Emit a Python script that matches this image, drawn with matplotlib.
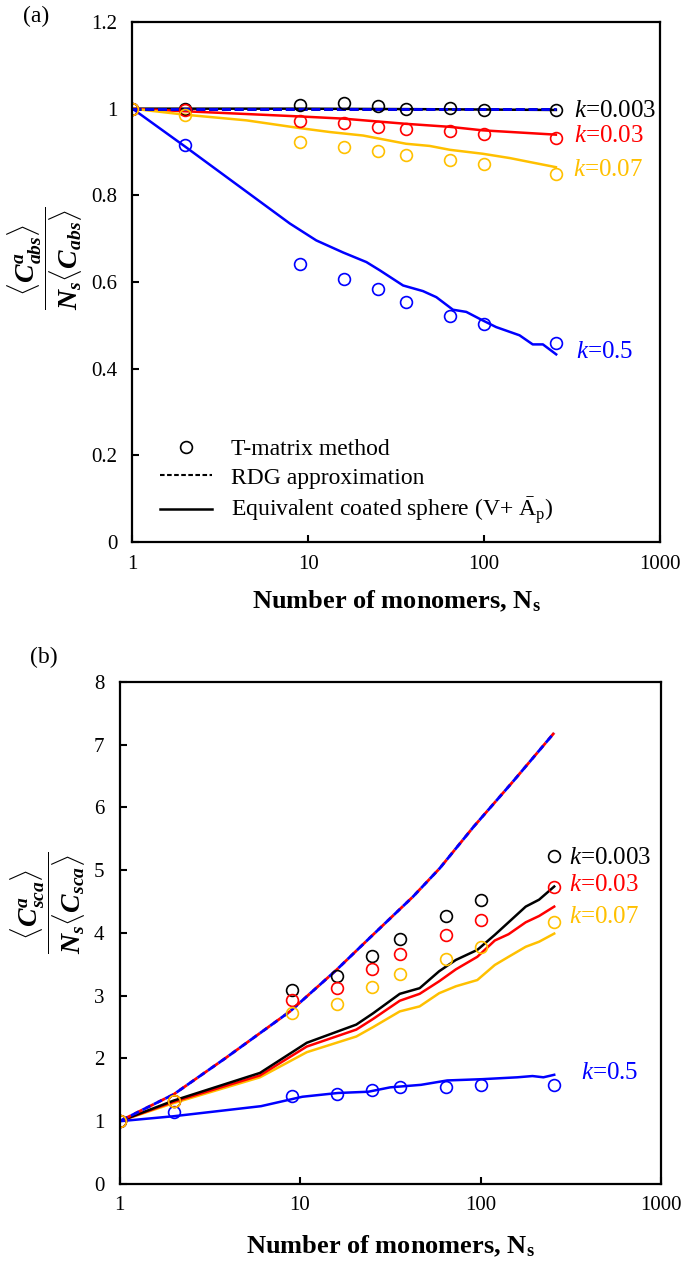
import numpy as np
import matplotlib
matplotlib.use('Agg')
import matplotlib.pyplot as plt
from matplotlib.lines import Line2D

plt.rcParams['font.family'] = 'Liberation Serif'
plt.rcParams['mathtext.fontset'] = 'custom'
plt.rcParams['mathtext.rm'] = 'Liberation Serif'
plt.rcParams['mathtext.it'] = 'Liberation Serif:italic'
plt.rcParams['mathtext.bf'] = 'Liberation Serif:bold'
plt.rcParams['mathtext.bfit'] = 'Liberation Serif:bold:italic'

K_LABELS = ['0.003', '0.03', '0.07', '0.5']
CORES = {'0.003': 'black', '0.03': '#ff0000', '0.07': '#ffc000', '0.5': '#0000ff'}

# T-matrix (círculos) - mesmos N para todos os k
N_TMAT = [1, 2, 9, 16, 25, 36, 64, 100, 256]

# (a) absorção
abs_tmat_0003 = [1, 1.000, 1.008, 1.014, 1.005, 1.000, 1.001, 0.998, 0.996]
abs_tmat_003 = [1, 0.996, 0.971, 0.967, 0.958, 0.954, 0.948, 0.942, 0.932]
abs_tmat_007 = [1, 0.986, 0.922, 0.911, 0.902, 0.894, 0.881, 0.872, 0.850]
abs_tmat_05 = [1, 0.917, 0.642, 0.608, 0.583, 0.554, 0.522, 0.502, 0.459]

N_abs_rdg = [1, 256]
abs_rdg = [1, 1]

N_abs_0003 = [1, 2, 9, 36, 100, 256]
abs_ecs_0003 = [1, 1, 1, 0.999, 0.998, 0.997]
N_abs_003 = [1, 2, 9, 15.8, 36, 64, 98, 256]
abs_ecs_003 = [1, 0.994, 0.982, 0.977, 0.965, 0.958, 0.950, 0.940]
N_abs_007 = [1, 2, 4.45, 9, 13.3, 20.5, 36, 49, 64, 98, 140, 181, 256]
abs_ecs_007 = [1, 0.986, 0.973, 0.955, 0.946, 0.938, 0.919, 0.914, 0.905,
               0.896, 0.886, 0.877, 0.865]
N_abs_05 = [1, 2, 7.85, 11.1, 15.8, 21.4, 25.5, 34.6, 44.9, 53.5, 66.5, 79.2,
            96.4, 117, 159, 189, 216, 257]
abs_ecs_05 = [1, 0.912, 0.735, 0.696, 0.668, 0.646, 0.627, 0.592, 0.579, 0.565,
              0.536, 0.531, 0.513, 0.496, 0.477, 0.456, 0.456, 0.433]

# (b) espalhamento
sca_tmat_0003 = [1, 1.32, 3.09, 3.31, 3.64, 3.91, 4.27, 4.53, 5.22]
sca_tmat_003 = [1, 1.32, 2.93, 3.12, 3.43, 3.67, 3.97, 4.21, 4.73]
sca_tmat_007 = [1, 1.32, 2.72, 2.87, 3.14, 3.35, 3.59, 3.78, 4.18]
sca_tmat_05 = [1, 1.15, 1.41, 1.44, 1.50, 1.54, 1.55, 1.57, 1.57]

N_sca_rdg = [1, 2, 3.84, 8.8, 15.9, 24.3, 42.3, 59.4, 91.4, 151, 256]
sca_rdg = [1, 1.43, 2.0, 2.75, 3.41, 3.92, 4.58, 5.03, 5.69, 6.41, 7.19]

N_sca = [1, 2, 6, 10.9, 20.5, 25.4, 35.7, 46, 59, 73, 96, 120, 143, 178, 211, 256]
sca_ecs_0003 = [1, 1.33, 1.77, 2.25, 2.54, 2.72, 3.03, 3.12, 3.39, 3.57, 3.73,
                3.97, 4.17, 4.42, 4.53, 4.74]
sca_ecs_003 = [1, 1.31, 1.73, 2.19, 2.46, 2.63, 2.92, 3.03, 3.23, 3.42, 3.62,
               3.88, 3.98, 4.17, 4.27, 4.42]
sca_ecs_007 = [1, 1.29, 1.70, 2.10, 2.35, 2.50, 2.75, 2.83, 3.04, 3.15, 3.25,
               3.49, 3.62, 3.78, 3.86, 3.99]
N_sca_05 = [1, 2, 6.08, 10.3, 16.2, 23.9, 31.6, 46.8, 65.4, 102, 160, 194, 223, 256]
sca_ecs_05 = [1, 1.08, 1.24, 1.39, 1.45, 1.47, 1.54, 1.58, 1.65, 1.67, 1.70,
              1.72, 1.70, 1.74]

# posição dos rótulos k=... (N, valor)
abs_label_pos = {'0.003': (323, 0.995), '0.03': (323, 0.937),
                 '0.07': (320, 0.858), '0.5': (335, 0.438)}
sca_label_pos = {'0.003': (311, 5.2), '0.03': (311, 4.77),
                 '0.07': (311, 4.26), '0.5': (358, 1.77)}

TICK_FS = 15
LW = 1.8
DASH = dict(linestyle=(0, (3.2, 1.4)), linewidth=2.0)
MARK = dict(marker='o', linestyle='none', markersize=8.5, markerfacecolor='none',
            markeredgewidth=1.2)


def formatar_eixo(ax, ymax, yticks, yticklabels, ylabel, ylabel_xy, xlabel_pad):
    ax.set_xscale('log')
    ax.set_xlim(1, 1000)
    ax.set_ylim(0, ymax)
    ax.set_xticks([1, 10, 100, 1000])
    ax.set_xticklabels(['1', '10', '100', '1000'])
    ax.xaxis.set_minor_locator(matplotlib.ticker.NullLocator())
    ax.set_yticks(yticks)
    ax.set_yticklabels(yticklabels)
    for s in ax.spines.values():
        s.set_linewidth(1.6)
    ax.tick_params(direction='in', length=5, width=1.5, labelsize=TICK_FS)
    ax.tick_params(axis='x', pad=9)
    ax.tick_params(axis='y', pad=11)
    ax.set_xlabel(r'Number of monomers, N$_\mathbf{s}$', fontsize=19,
                  fontweight='bold', labelpad=xlabel_pad)
    ax.text(ylabel_xy[0], ylabel_xy[1], ylabel, transform=ax.transAxes,
            rotation=90, ha='center', va='center', fontsize=20)


fig = plt.figure(figsize=(6.85, 12.64), dpi=100)
ax1 = fig.add_axes([0.1934, 0.5712, 0.770, 0.4114])
ax2 = fig.add_axes([0.1745, 0.0633, 0.7905, 0.3972])

# ---- (a) absorção
ax1.plot(N_abs_0003, abs_ecs_0003, color=CORES['0.003'], lw=LW)
ax1.plot(N_abs_003, abs_ecs_003, color=CORES['0.03'], lw=LW)
ax1.plot(N_abs_007, abs_ecs_007, color=CORES['0.07'], lw=LW)
ax1.plot(N_abs_05, abs_ecs_05, color=CORES['0.5'], lw=LW)
ax1.plot(N_abs_rdg, abs_rdg, color='black', **DASH)
ax1.plot(N_abs_rdg, abs_rdg, color=CORES['0.5'], **DASH)

ax1.plot(N_TMAT, abs_tmat_05, color=CORES['0.5'], **MARK)
ax1.plot(N_TMAT, abs_tmat_0003, color=CORES['0.003'], **MARK)
ax1.plot(N_TMAT, abs_tmat_003, color=CORES['0.03'], **MARK)
ax1.plot(N_TMAT, abs_tmat_007, color=CORES['0.07'], **MARK)

for k in K_LABELS:
    x, y = abs_label_pos[k]
    ax1.text(x, y, rf'$k$={k}', color=CORES[k], fontsize=18, va='center', ha='left')

legenda = [
    Line2D([], [], color='black', **MARK),
    Line2D([], [], color='black', linestyle=(0, (2.2, 1.2)), linewidth=1.5),
    Line2D([], [], color='black', lw=LW),
]
ax1.legend(legenda, ['T-matrix method', 'RDG approximation',
                     r'Equivalent coated sphere (V+ $\bar{\mathrm{A}}_\mathrm{p}$)'],
           loc='lower left', bbox_to_anchor=(0.053, 0.03), frameon=False,
           fontsize=17, handlelength=2.2, handletextpad=0.8, labelspacing=0.3,
           borderpad=0, borderaxespad=0)

formatar_eixo(ax1, 1.2, np.arange(0, 1.21, 0.2),
              ['0', '0.2', '0.4', '0.6', '0.8', '1', '1.2'],
              r'$\dfrac{\langle \mathbfit{C}^{\mathbfit{a}}_{\mathbfit{abs}} \rangle}'
              r'{\mathbfit{N}_{\mathbfit{s}}\langle \mathbfit{C}_{\mathbfit{abs}} \rangle}$',
              (-0.166, 0.546), 11)
fig.text(36 / 685, 1 - 16 / 1264, '(a)', fontsize=17, ha='center', va='center')

# ---- (b) espalhamento
ax2.plot(N_sca, sca_ecs_007, color=CORES['0.07'], lw=LW)
ax2.plot(N_sca, sca_ecs_003, color=CORES['0.03'], lw=LW)
ax2.plot(N_sca, sca_ecs_0003, color=CORES['0.003'], lw=LW)
ax2.plot(N_sca_05, sca_ecs_05, color=CORES['0.5'], lw=LW)
ax2.plot(N_sca_rdg, sca_rdg, color=CORES['0.03'], linewidth=2.0,
         linestyle=(3.2, (3.2, 1.4)))
ax2.plot(N_sca_rdg, sca_rdg, color=CORES['0.5'], **DASH)

ax2.plot(N_TMAT, sca_tmat_05, color=CORES['0.5'], **MARK)
ax2.plot(N_TMAT, sca_tmat_0003, color=CORES['0.003'], **MARK)
ax2.plot(N_TMAT, sca_tmat_003, color=CORES['0.03'], **MARK)
ax2.plot(N_TMAT, sca_tmat_007, color=CORES['0.07'], **MARK)

for k in K_LABELS:
    x, y = sca_label_pos[k]
    ax2.text(x, y, rf'$k$={k}', color=CORES[k], fontsize=18, va='center', ha='left')

formatar_eixo(ax2, 8, np.arange(0, 9, 1), [str(i) for i in range(9)],
              r'$\dfrac{\langle \mathbfit{C}^{\mathbfit{a}}_{\mathbfit{sca}} \rangle}'
              r'{\mathbfit{N}_{\mathbfit{s}}\langle \mathbfit{C}_{\mathbfit{sca}} \rangle}$',
              (-0.132, 0.56), 13)
fig.text(44 / 685, 1 - 657 / 1264, '(b)', fontsize=17, ha='center', va='center')

fig.savefig('out.png', dpi=100)
